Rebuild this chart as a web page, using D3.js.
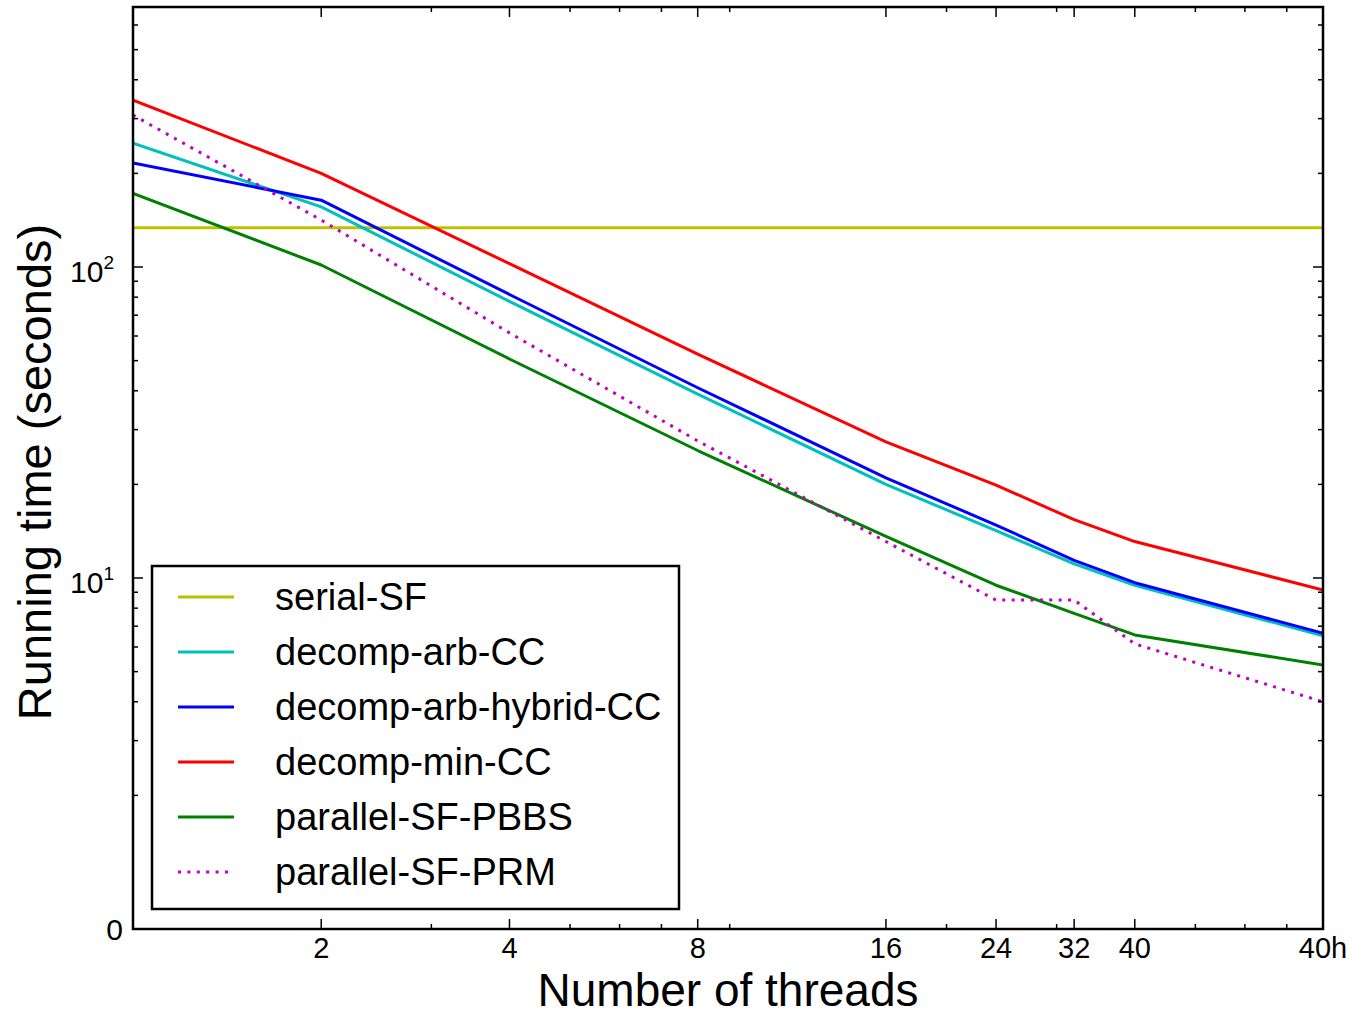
<!DOCTYPE html>
<html>
<head>
<meta charset="utf-8">
<script src="https://cdn.jsdelivr.net/npm/d3@7/dist/d3.min.js"></script>
<style>
  html, body { margin: 0; padding: 0; background: #fff; }
  svg { display: block; font-family: "Liberation Sans", Arial, Helvetica, sans-serif; }
</style>
</head>
<body>
<svg id="chart" width="1356" height="1016"></svg>
<script>
// Thread counts (80 = 40 cores with hyper-threading, labelled "40h")
const threads = [1, 2, 4, 8, 16, 24, 32, 40, 80];
const threadLabels = ["2", "4", "8", "16", "24", "32", "40", "40h"];
const labelledThreads = [2, 4, 8, 16, 24, 32, 40, 80];

// Running time in seconds for each implementation
const serialSF          = [133.8, 133.8, 133.8, 133.8, 133.8, 133.8, 133.8, 133.8, 133.8];
const decompArbCC       = [250, 156, 77.5, 39.0, 20.0, 14.2, 11.1, 9.48, 6.52];
const decompArbHybridCC = [216, 164, 81.6, 40.9, 21.0, 14.8, 11.4, 9.66, 6.64];
const decompMinCC       = [344, 200, 102.5, 52.5, 27.4, 19.9, 15.4, 13.1, 9.15];
const parallelSFPBBS    = [172.6, 101.5, 50.6, 25.7, 13.6, 9.48, 7.7, 6.56, 5.25];
const parallelSFPRM     = [308, 141.6, 61.4, 27.6, 13.1, 8.49, 8.49, 6.14, 4.0];

const seriesNames = ["serial-SF", "decomp-arb-CC", "decomp-arb-hybrid-CC",
                     "decomp-min-CC", "parallel-SF-PBBS", "parallel-SF-PRM"];
const seriesValues = [serialSF, decompArbCC, decompArbHybridCC,
                      decompMinCC, parallelSFPBBS, parallelSFPRM];
const seriesColors = ["#bfbf00", "#00bfbf", "#0000ff", "#ff0000", "#008000", "#bf00bf"];
const seriesDashes = [null, null, null, null, null, "3,6.4"];

// Tick values
const xMinorTicks = [3, 5, 6, 7, 9, 20, 30, 50, 60, 70];
const yMajorTicks = [10, 100];
const yMinorTicks = [2, 3, 4, 5, 6, 7, 8, 9, 20, 30, 40, 50, 60, 70, 80, 90, 200, 300, 400, 500, 600];

const svg = d3.select("#chart");
const plotLeft = 133, plotRight = 1323, plotTop = 7, plotBottom = 929;

const x = d3.scaleLog().base(2).domain([1, 80]).range([plotLeft, plotRight]);
const y = d3.scaleLog().domain([0.7437, 685.6]).range([plotBottom, plotTop]);

const plot = svg.append("g");

// Clip region for the data
svg.append("defs").append("clipPath").attr("id", "clip")
  .append("rect").attr("x", plotLeft).attr("y", plotTop)
  .attr("width", plotRight - plotLeft).attr("height", plotBottom - plotTop);

// Series lines
const line = d3.line().x((d, i) => x(threads[i])).y(d => y(d));
const linesG = plot.append("g").attr("clip-path", "url(#clip)");
seriesValues.forEach((vals, k) => {
  linesG.append("path")
    .datum(vals)
    .attr("d", line)
    .attr("fill", "none")
    .attr("stroke", seriesColors[k])
    .attr("stroke-width", 3)
    .attr("stroke-dasharray", seriesDashes[k])
    .attr("stroke-linejoin", "round");
});

// Inward ticks on all four sides
const ticksG = plot.append("g").attr("stroke", "#000").attr("stroke-width", 1.5);
function xTicks(vals, len) {
  vals.forEach(v => {
    const px = x(v);
    ticksG.append("line").attr("x1", px).attr("x2", px).attr("y1", plotBottom).attr("y2", plotBottom - len);
    ticksG.append("line").attr("x1", px).attr("x2", px).attr("y1", plotTop).attr("y2", plotTop + len);
  });
}
function yTicks(vals, len) {
  vals.forEach(v => {
    const py = y(v);
    ticksG.append("line").attr("x1", plotLeft).attr("x2", plotLeft + len).attr("y1", py).attr("y2", py);
    ticksG.append("line").attr("x1", plotRight).attr("x2", plotRight - len).attr("y1", py).attr("y2", py);
  });
}
xTicks(labelledThreads, 10);
xTicks(xMinorTicks, 5);
yTicks(yMajorTicks, 10);
yTicks(yMinorTicks, 5);

// Axes frame
plot.append("rect")
  .attr("x", plotLeft).attr("y", plotTop)
  .attr("width", plotRight - plotLeft).attr("height", plotBottom - plotTop)
  .attr("fill", "none").attr("stroke", "#000").attr("stroke-width", 2.5);

// X tick labels
labelledThreads.forEach((v, i) => {
  svg.append("text")
    .attr("x", x(v)).attr("y", 958)
    .attr("text-anchor", "middle")
    .attr("font-size", 29)
    .text(threadLabels[i]);
});

// Y tick labels (powers of ten, plus the zero at the bottom)
yMajorTicks.forEach(v => {
  const t = svg.append("text")
    .attr("x", 114).attr("y", y(v) + 15)
    .attr("text-anchor", "end")
    .attr("font-size", 30);
  t.append("tspan").text("10");
  t.append("tspan").attr("font-size", 19).attr("dy", -13).text(String(Math.round(Math.log10(v))));
});
svg.append("text")
  .attr("x", 123).attr("y", plotBottom + 11)
  .attr("text-anchor", "end")
  .attr("font-size", 30)
  .text("0");

// Axis titles
svg.append("text")
  .attr("x", (plotLeft + plotRight) / 2).attr("y", 1006)
  .attr("text-anchor", "middle")
  .attr("font-size", 46)
  .text("Number of threads");
svg.append("text")
  .attr("transform", `translate(51, ${(plotTop + plotBottom) / 2 + 4}) rotate(-90)`)
  .attr("text-anchor", "middle")
  .attr("font-size", 47)
  .text("Running time (seconds)");

// Legend
const legend = svg.append("g");
legend.append("rect")
  .attr("x", 152).attr("y", 566)
  .attr("width", 527).attr("height", 343)
  .attr("fill", "#fff").attr("stroke", "#000").attr("stroke-width", 2.5);
seriesNames.forEach((name, k) => {
  const cy = 597 + k * 55;
  legend.append("line")
    .attr("x1", 178).attr("x2", 234).attr("y1", cy).attr("y2", cy)
    .attr("stroke", seriesColors[k]).attr("stroke-width", 3)
    .attr("stroke-dasharray", seriesDashes[k]);
  legend.append("text")
    .attr("x", 275).attr("y", cy + 13)
    .attr("font-size", 38)
    .text(name);
});
</script>
</body>
</html>
